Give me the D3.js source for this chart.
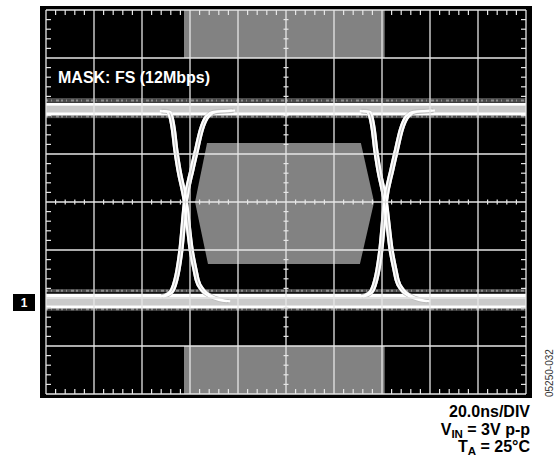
<!DOCTYPE html>
<html>
<head>
<meta charset="utf-8">
<style>
  body { margin: 0; background: #fff; }
  svg text { font-family: Arial, "Liberation Sans", sans-serif; }
</style>
<script src="https://cdn.jsdelivr.net/npm/d3@7"></script>
</head>
<body>
<svg id="chart" width="556" height="459"></svg>
<script>
// scope screen: 20 ns/div across 10 divs, 0.75 V/div over 8 divs
const timeDomain = [0, 200]
const voltDomain = [-3, 3]
const gridTimes = d3.range(0, 200.1, 20)
const gridVolts = d3.range(-3, 3.01, 0.75)

// bit crossings of the eye (ns)
const crossings = [58.1, 141.4]

// edge shape around a crossing: [ns from crossing, volts]
const fallingEdge = [
  [-10, 1.42], [-7.1, 1.41], [-6.4, 1.375], [-5.0, 1.125], [-4.0, 0.81],
  [-2.7, 0.5], [0, 0], [2.4, -0.75], [4.0, -1.06], [4.9, -1.22],
  [7.1, -1.375], [10.4, -1.47], [14.6, -1.53], [18, -1.55]
]
const risingEdge = [
  [-10, -1.48], [-7.1, -1.44], [-5.4, -1.375], [-4.0, -1.22], [-3.1, -1.06],
  [-1.9, -0.75], [0, 0], [2.7, 0.5], [4.6, 0.81], [6.6, 1.125],
  [9.2, 1.34], [12.5, 1.41], [16.7, 1.42], [20, 1.43]
]
// jitter copies of every edge (ns)
const jitter = [-0.65, 0.65]

// persistent high / low levels (volts)
const levelLines = [1.52, 1.375, -1.46, -1.64]
const levelFill = [[1.49, 1.39], [-1.48, -1.62]]
const noiseBands = [[1.625, 1.55], [1.36, 1.31], [-1.36, -1.41], [-1.655, -1.70]]

// USB full-speed eye mask
const maskBars = [[57.5, 141.1, 2.25, 3], [57.5, 141.1, -3, -2.25]]
const maskHex = [[67.1, 0.92], [62.1, 0], [67.5, -0.97], [130.8, -0.97], [136.7, 0], [131.2, 0.92]]

const svg = d3.select("#chart")

let x = d3.scaleLinear().domain(timeDomain).range([46, 526])
let y = d3.scaleLinear().domain(voltDomain).range([394, 10])

// black bezel + screen
svg.append("rect")
  .attr("x", 40).attr("y", 6).attr("width", 492).attr("height", 392)
  .attr("fill", "#000")

svg.append("defs").append("clipPath").attr("id", "screen")
  .append("rect").attr("x", 46).attr("y", 10).attr("width", 480).attr("height", 384)

let scr = svg.append("g").attr("clip-path", "url(#screen)")

// mask
scr.selectAll("rect.mask")
  .data(maskBars)
  .enter().append("rect")
  .attr("class", "mask")
  .attr("x", d => x(d[0]))
  .attr("width", d => x(d[1]) - x(d[0]))
  .attr("y", d => y(d[3]))
  .attr("height", d => y(d[2]) - y(d[3]))
  .attr("fill", "#828282")

scr.append("path")
  .attr("d", d3.line().x(d => x(d[0])).y(d => y(d[1]))(maskHex) + "Z")
  .attr("fill", "#828282")

// graticule
let grid = svg.append("g").attr("stroke", "#e6e6e6").attr("stroke-width", 1.3)
grid.selectAll("line.v")
  .data(gridTimes)
  .enter().append("line")
  .attr("x1", d => x(d)).attr("x2", d => x(d))
  .attr("y1", y(3)).attr("y2", y(-3))
grid.selectAll("line.h")
  .data(gridVolts)
  .enter().append("line")
  .attr("class", "h")
  .attr("y1", d => y(d)).attr("y2", d => y(d))
  .attr("x1", x(0)).attr("x2", x(200))

// minor ticks: 5 per division on the centre lines and along the edges
let minorT = d3.range(0, 200.1, 4).filter(t => t % 20 != 0)
let minorV = d3.range(-3, 3.01, 0.15).filter(v => Math.abs(v / 0.75 - Math.round(v / 0.75)) > 0.01)
let ticks = svg.append("g").attr("stroke", "#e6e6e6").attr("stroke-width", 1.2)

ticks.selectAll("line.tc")
  .data(minorT).enter().append("line")
  .attr("x1", d => x(d)).attr("x2", d => x(d))
  .attr("y1", y(0) - 2.5).attr("y2", y(0) + 2.5)
ticks.selectAll("line.tt")
  .data(minorT).enter().append("line")
  .attr("x1", d => x(d)).attr("x2", d => x(d))
  .attr("y1", y(3)).attr("y2", y(3) + 5)
ticks.selectAll("line.tb")
  .data(minorT).enter().append("line")
  .attr("x1", d => x(d)).attr("x2", d => x(d))
  .attr("y1", y(-3) - 5).attr("y2", y(-3))
ticks.selectAll("line.vc")
  .data(minorV).enter().append("line")
  .attr("y1", d => y(d)).attr("y2", d => y(d))
  .attr("x1", x(100) - 2.5).attr("x2", x(100) + 2.5)
ticks.selectAll("line.vl")
  .data(minorV).enter().append("line")
  .attr("y1", d => y(d)).attr("y2", d => y(d))
  .attr("x1", x(0)).attr("x2", x(0) + 5)
ticks.selectAll("line.vr")
  .data(minorV).enter().append("line")
  .attr("y1", d => y(d)).attr("y2", d => y(d))
  .attr("x1", x(200) - 5).attr("x2", x(200))

// persistent levels
scr.selectAll("rect.noise")
  .data(noiseBands).enter().append("rect")
  .attr("x", x(0)).attr("width", x(200) - x(0))
  .attr("y", d => y(d[0])).attr("height", d => y(d[1]) - y(d[0]))
  .attr("fill", "#4a4a4a")
scr.selectAll("line.noise")
  .data(noiseBands).enter().append("line")
  .attr("x1", x(0)).attr("x2", x(200))
  .attr("y1", d => y((d[0] + d[1]) / 2)).attr("y2", d => y((d[0] + d[1]) / 2))
  .attr("stroke", "#8c8c8c").attr("stroke-width", 2)
  .attr("stroke-dasharray", "2,3,1,4,3,2")

scr.selectAll("rect.fill")
  .data(levelFill).enter().append("rect")
  .attr("x", x(0)).attr("width", x(200) - x(0))
  .attr("y", d => y(d[0])).attr("height", d => y(d[1]) - y(d[0]))
  .attr("fill", "#cacaca")
scr.selectAll("line.level")
  .data(levelLines).enter().append("line")
  .attr("x1", x(0)).attr("x2", x(200))
  .attr("y1", d => y(d)).attr("y2", d => y(d))
  .attr("stroke", "#fff").attr("stroke-width", 3.2)

// edges
let edgeLine = d3.line()
  .x(d => x(d[0]))
  .y(d => y(d[1]))
  .curve(d3.curveMonotoneX)

let edges = []
for (let tc of crossings) {
  for (let shape of [fallingEdge, risingEdge]) {
    edges.push(shape.map(p => [tc + p[0], p[1]]))
  }
}

scr.selectAll("path.halo")
  .data(edges).enter().append("path")
  .attr("d", d => edgeLine(d))
  .attr("fill", "none")
  .attr("stroke", "#bdbdbd")
  .attr("stroke-width", 5)

for (let j of jitter) {
  scr.selectAll("path.j" + (j < 0 ? "a" : "b"))
    .data(edges).enter().append("path")
    .attr("d", d => edgeLine(d.map(p => [p[0] + j, p[1]])))
    .attr("fill", "none")
    .attr("stroke", "#fff")
    .attr("stroke-width", 2.1)
}

// labels
svg.append("text")
  .attr("x", 58).attr("y", 83)
  .attr("fill", "#fff")
  .attr("font-size", 16)
  .attr("font-weight", "bold")
  .text("MASK: FS (12Mbps)")

svg.append("rect")
  .attr("x", 13).attr("y", 294).attr("width", 22).attr("height", 17)
  .attr("fill", "#000")
svg.append("text")
  .attr("x", 24).attr("y", 307)
  .attr("text-anchor", "middle")
  .attr("fill", "#fff")
  .attr("font-size", 12)
  .attr("font-weight", "bold")
  .text("1")

let notes = svg.append("g")
  .attr("font-size", 16)
  .attr("font-weight", "bold")
  .attr("fill", "#000")
  .attr("text-anchor", "end")

notes.append("text").attr("x", 530).attr("y", 417).text("20.0ns/DIV")

let vin = notes.append("text").attr("x", 530).attr("y", 435)
vin.append("tspan").text("V")
vin.append("tspan").attr("font-size", 11.5).attr("dy", 3).text("IN")
vin.append("tspan").attr("dy", -3).text(" = 3V p-p")

let ta = notes.append("text").attr("x", 530).attr("y", 452)
ta.append("tspan").text("T")
ta.append("tspan").attr("font-size", 11.5).attr("dy", 3).text("A")
ta.append("tspan").attr("dy", -3).text(" = 25°C")

svg.append("text")
  .attr("transform", "translate(553,397) rotate(-90)")
  .attr("font-size", 10)
  .attr("fill", "#333")
  .text("05250-032")
</script>
</body>
</html>
